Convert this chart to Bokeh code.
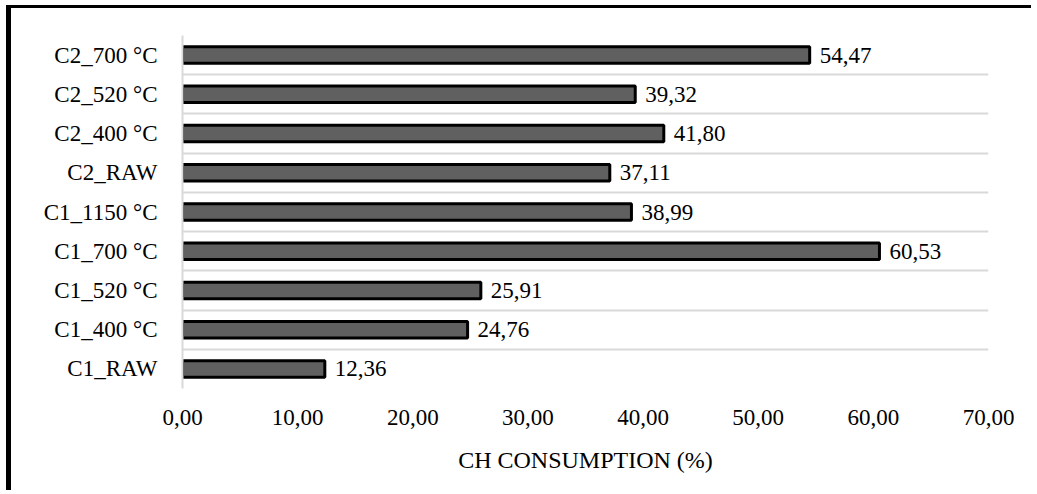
from bokeh.plotting import figure
from bokeh.models import Range1d, FixedTicker
from bokeh.core.properties import value
from bokeh.embed import file_html
from bokeh.resources import INLINE

# Data (bottom to top)
categories = ["C1_RAW", "C1_400 °C", "C1_520 °C", "C1_700 °C", "C1_1150 °C",
              "C2_RAW", "C2_400 °C", "C2_520 °C", "C2_700 °C"]
consumption = [12.36, 24.76, 25.91, 60.53, 38.99, 37.11, 41.80, 39.32, 54.47]
x_ticks = [0, 10, 20, 30, 40, 50, 60, 70]
x_tick_labels = ["0,00", "10,00", "20,00", "30,00", "40,00", "50,00", "60,00", "70,00"]

FONT = "Liberation Serif"

ypos = [i + 0.5 for i in range(len(categories))]
labels = [f"{v:.2f}".replace(".", ",") for v in consumption]

p = figure(width=1025, height=485, output_backend="svg", toolbar_location=None,
           x_range=Range1d(0, 70), y_range=Range1d(0, len(categories)),
           min_border_left=171, min_border_right=48, min_border_top=27,
           min_border_bottom=105)
p.styles = {"border-top": "3px solid black", "border-left": "5px solid black",
            "margin-left": "6px", "margin-top": "5px"}
p.outline_line_color = None
p.background_fill_color = "white"
p.border_fill_color = "white"

p.hbar(y=ypos, right=consumption, left=0, height=0.42,
       fill_color="#606060", line_color="black", line_width=3)

p.text(x=consumption, y=ypos, text=labels, x_offset=10,
       text_font=value(FONT), text_font_size="23px", text_baseline="middle",
       text_color="black")

# Grid: horizontal lines at category boundaries
p.xgrid.visible = False
p.ygrid.ticker = FixedTicker(ticks=list(range(len(categories) + 1)))
p.ygrid.grid_line_color = "#d9d9d9"
p.ygrid.grid_line_width = 2

# Y axis
p.yaxis.ticker = FixedTicker(ticks=ypos)
p.yaxis.major_label_overrides = {y: c for y, c in zip(ypos, categories)}
p.yaxis.major_label_text_font = FONT
p.yaxis.major_label_text_font_size = "23px"
p.yaxis.major_label_text_color = "black"
p.yaxis.axis_line_color = "#d9d9d9"
p.yaxis.axis_line_width = 2
p.yaxis.major_tick_line_color = None
p.yaxis.minor_tick_line_color = None
p.yaxis.major_label_standoff = 19

# X axis
p.xaxis.ticker = FixedTicker(ticks=x_ticks)
p.xaxis.major_label_overrides = {t: l for t, l in zip(x_ticks, x_tick_labels)}
p.xaxis.major_label_text_font = FONT
p.xaxis.major_label_text_font_size = "23px"
p.xaxis.major_label_text_color = "black"
p.xaxis.axis_line_color = None
p.xaxis.major_tick_line_color = None
p.xaxis.minor_tick_line_color = None
p.xaxis.major_label_standoff = 15
p.xaxis.axis_label = "CH CONSUMPTION (%)"
p.xaxis.axis_label_text_font = FONT
p.xaxis.axis_label_text_font_size = "24px"
p.xaxis.axis_label_text_font_style = "normal"
p.xaxis.axis_label_text_color = "black"
p.xaxis.axis_label_standoff = 19

open("out.html", "w").write(file_html(p, INLINE))
